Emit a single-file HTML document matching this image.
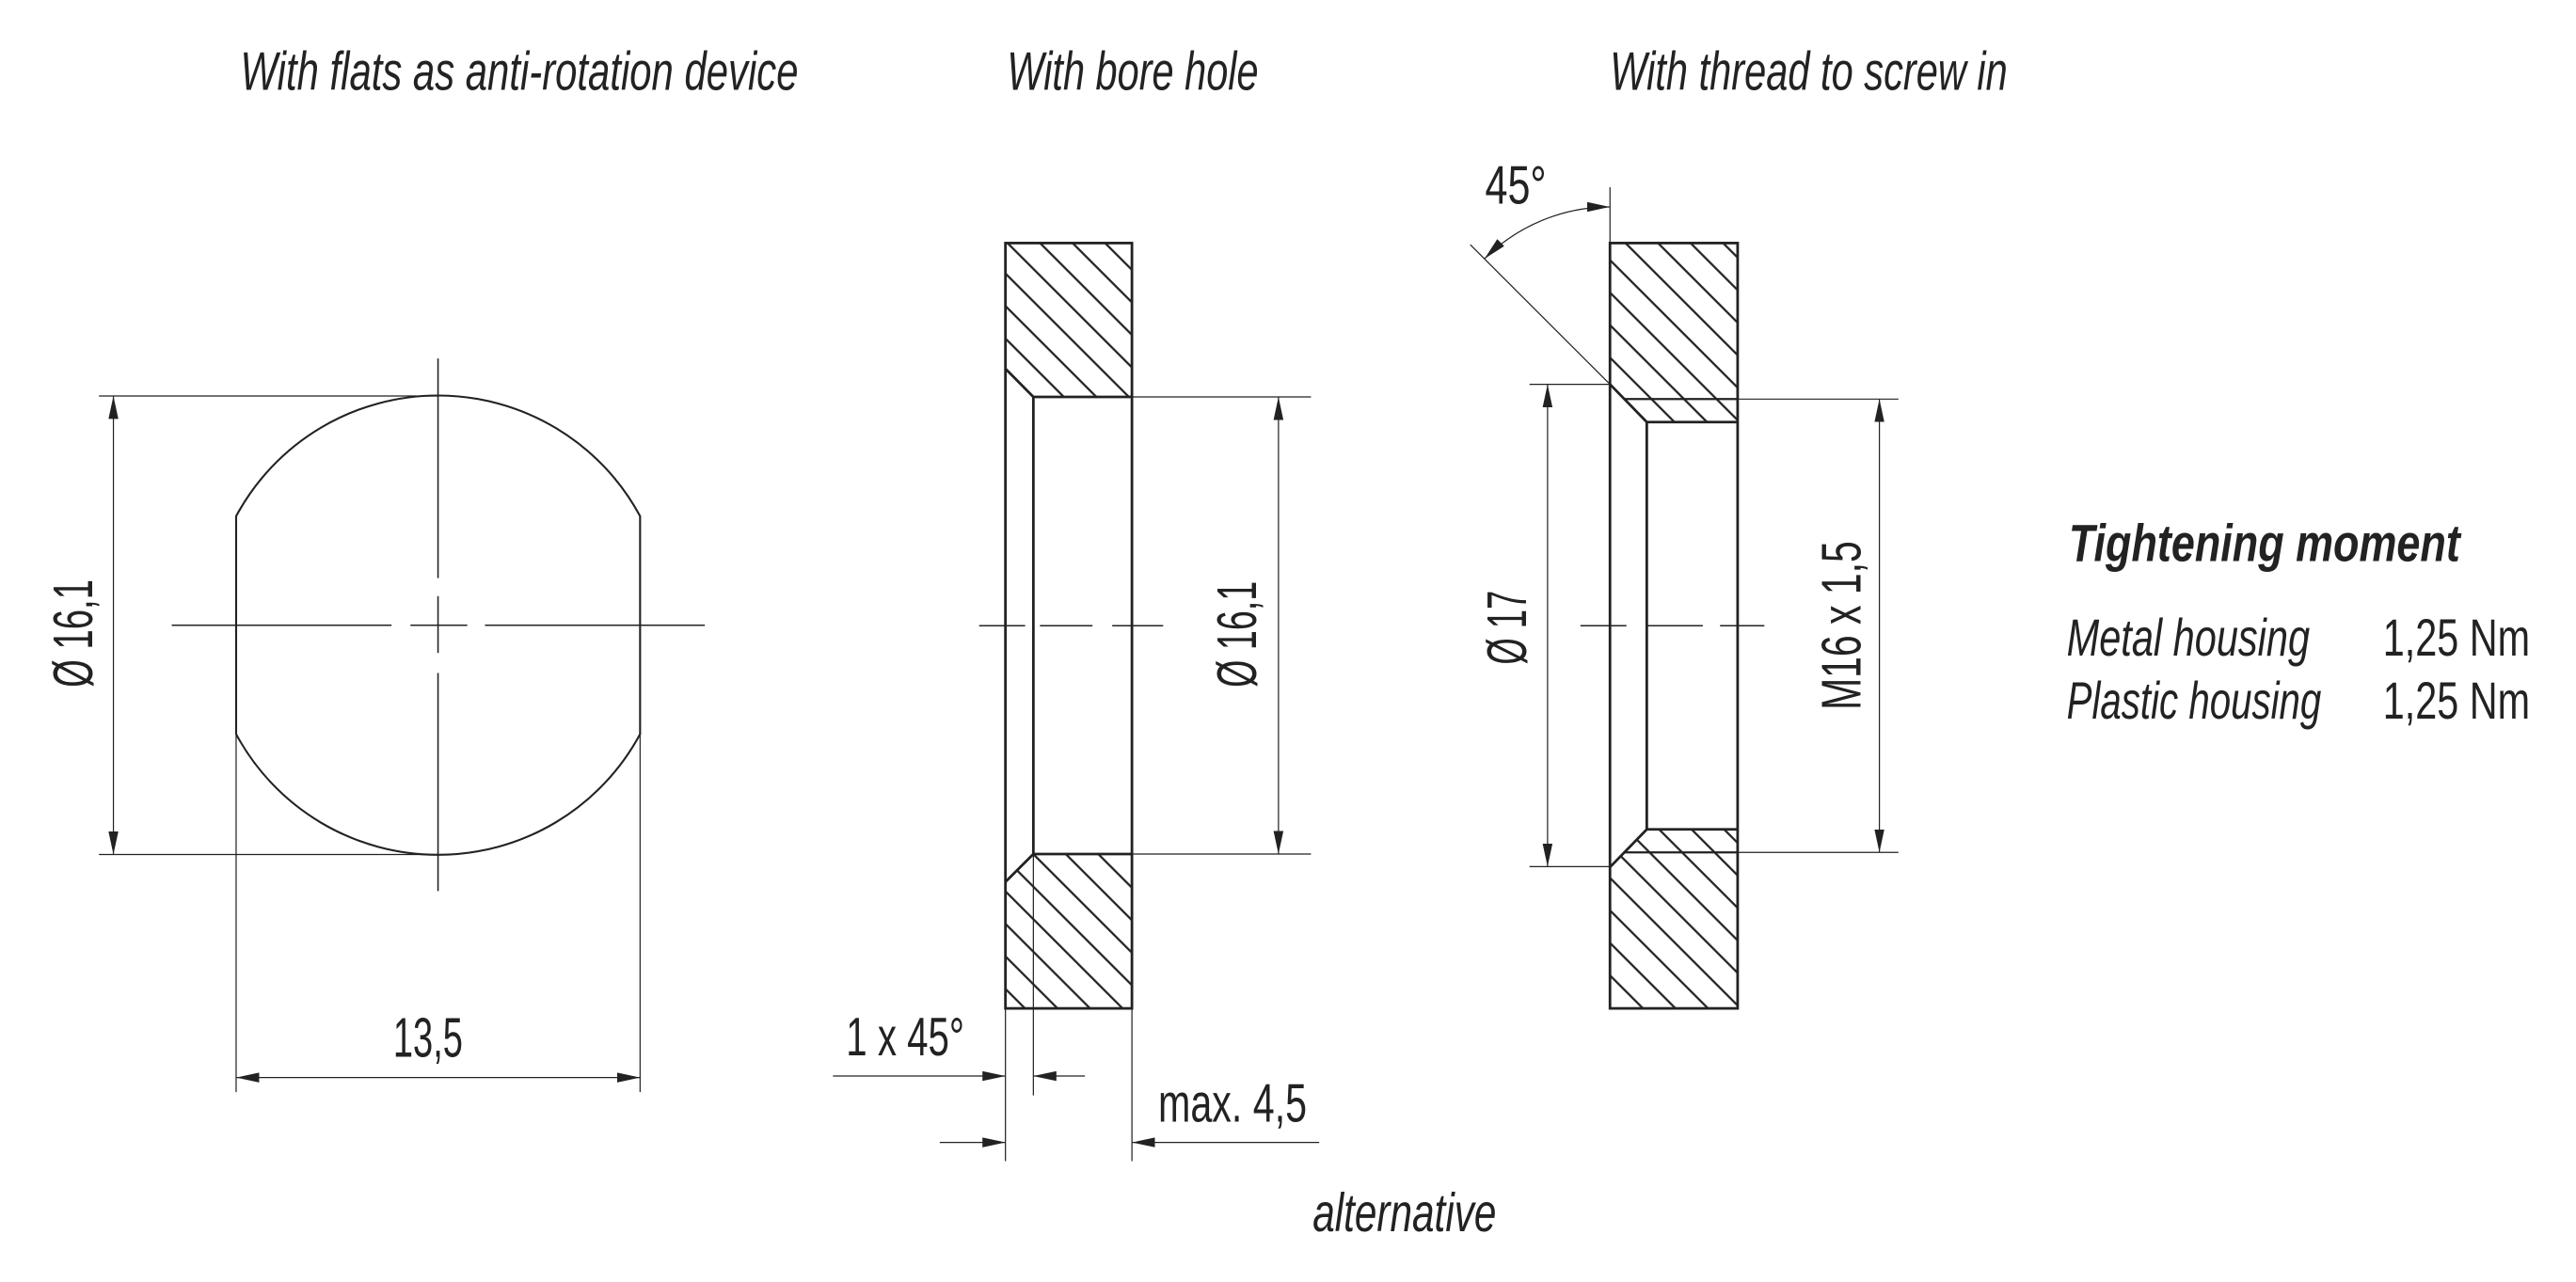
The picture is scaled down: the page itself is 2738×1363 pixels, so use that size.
<!DOCTYPE html>
<html><head><meta charset="utf-8"><style>
html,body{margin:0;padding:0;background:#fff;}
svg{display:block;}
text{font-family:"Liberation Sans Narrow","Liberation Sans",sans-serif;fill:#222;}
.it{font-style:italic;}
</style></head><body>
<svg width="2738" height="1363" viewBox="0 0 1568 780.6" xmlns="http://www.w3.org/2000/svg">
<defs>
<pattern id="h" patternUnits="userSpaceOnUse" width="14" height="14" patternTransform="rotate(-45)">
<line x1="7" y1="-1" x2="7" y2="15" stroke="#222" stroke-width="1.3"/>
</pattern>
<marker id="a" viewBox="0 0 14 6" refX="14" refY="3" markerWidth="14" markerHeight="6" markerUnits="userSpaceOnUse" orient="auto-start-reverse">
<path d="M0,0 L14,3 L0,6 Z" fill="#222"/>
</marker>
</defs>
<g fill="none" stroke="#222">
<path d="M143.7,314.3 A139.6,139.6 0 0 1 389.6,314.3 L389.6,447 A139.6,139.6 0 0 1 143.7,447 Z" stroke-width="1.2"/>
<g stroke-width="0.9">
<line x1="104.5" y1="380.7" x2="238.3" y2="380.7"/>
<line x1="249.8" y1="380.7" x2="284.4" y2="380.7"/>
<line x1="295.2" y1="380.7" x2="429" y2="380.7"/>
<line x1="266.6" y1="218.3" x2="266.6" y2="352"/>
<line x1="266.6" y1="363" x2="266.6" y2="397.6"/>
<line x1="266.6" y1="409.8" x2="266.6" y2="542.6"/>
<line x1="60.2" y1="241.1" x2="266.6" y2="241.1" stroke-width="0.7"/>
<line x1="60.2" y1="520.3" x2="266.6" y2="520.3" stroke-width="0.7"/>
<line x1="69" y1="241.1" x2="69" y2="520.3" stroke-width="0.7" marker-start="url(#a)" marker-end="url(#a)"/>
<line x1="143.7" y1="447" x2="143.7" y2="665" stroke-width="0.7"/>
<line x1="389.6" y1="447" x2="389.6" y2="665" stroke-width="0.7"/>
<line x1="143.7" y1="656.1" x2="389.6" y2="656.1" stroke-width="0.7" marker-start="url(#a)" marker-end="url(#a)"/>
</g>

<path d="M612,148 L689,148 L689,241.7 L629,241.7 L612,224.5 Z" fill="url(#h)" stroke="none"/>
<path d="M629,520 L689,520 L689,614 L612,614 L612,537 Z" fill="url(#h)" stroke="none"/>
<rect x="612" y="148" width="77" height="466" stroke-width="1.6"/>
<path d="M612,224.5 L629,241.7 L689,241.7 M629,241.7 L629,520 L689,520 M629,520 L612,537" stroke-width="1.6"/>
<g stroke-width="0.7">
<line x1="629" y1="520" x2="629" y2="667"/>
<line x1="612" y1="614" x2="612" y2="707"/>
<line x1="689" y1="614" x2="689" y2="707"/>
<line x1="689" y1="241.7" x2="798" y2="241.7"/>
<line x1="689" y1="520" x2="798" y2="520"/>
<line x1="778.2" y1="241.7" x2="778.2" y2="520" marker-start="url(#a)" marker-end="url(#a)"/>
<line x1="507" y1="655.2" x2="612" y2="655.2" marker-end="url(#a)"/>
<line x1="660.4" y1="655.2" x2="629" y2="655.2" marker-end="url(#a)"/>
<line x1="572" y1="695.6" x2="612" y2="695.6" marker-end="url(#a)"/>
<line x1="803" y1="695.6" x2="689" y2="695.6" marker-end="url(#a)"/>
</g>
<g stroke-width="0.9">
<line x1="596" y1="381" x2="624" y2="381"/>
<line x1="633" y1="381" x2="665" y2="381"/>
<line x1="677" y1="381" x2="708" y2="381"/>
</g>

<path d="M980,148 L1057.7,148 L1057.7,257 L1002.4,257 L980,234 Z" fill="url(#h)" stroke="none"/>
<path d="M1002.4,505 L1057.7,505 L1057.7,614 L980,614 L980,528 Z" fill="url(#h)" stroke="none"/>
<rect x="980" y="148" width="77.7" height="466" stroke-width="1.6"/>
<path d="M980,234 L1002.4,257 L1057.7,257 M1002.4,257 L1002.4,505 L1057.7,505 M1002.4,505 L980,528" stroke-width="1.6"/>
<line x1="989" y1="243" x2="1057.7" y2="243" stroke-width="1.3"/>
<line x1="989" y1="519" x2="1057.7" y2="519" stroke-width="1.3"/>
<g stroke-width="0.7">
<line x1="931" y1="234" x2="980" y2="234"/>
<line x1="931" y1="527.7" x2="980" y2="527.7"/>
<line x1="942" y1="234" x2="942" y2="527.7" marker-start="url(#a)" marker-end="url(#a)"/>
<line x1="1057.7" y1="243" x2="1155.6" y2="243"/>
<line x1="1057.7" y1="519" x2="1155.6" y2="519"/>
<line x1="1144" y1="243" x2="1144" y2="519" marker-start="url(#a)" marker-end="url(#a)"/>
<line x1="980" y1="114" x2="980" y2="148"/>
<line x1="980" y1="234" x2="895" y2="149"/>
<path d="M903.6,157.6 A108,108 0 0 1 980,126" marker-start="url(#a)" marker-end="url(#a)"/>
</g>
<g stroke-width="0.9">
<line x1="962" y1="381" x2="990" y2="381"/>
<line x1="1003" y1="381" x2="1036.5" y2="381"/>
<line x1="1047" y1="381" x2="1074" y2="381"/>
</g>
</g>

<text class="it" x="146.3" y="54.8" font-size="33" textLength="339.6" lengthAdjust="spacingAndGlyphs">With flats as anti-rotation device</text>
<text class="it" x="613" y="54.8" font-size="33" textLength="153" lengthAdjust="spacingAndGlyphs">With bore hole</text>
<text class="it" x="980" y="54.8" font-size="33" textLength="242" lengthAdjust="spacingAndGlyphs">With thread to screw in</text>

<text x="239.3" y="643.4" font-size="34" textLength="42.4" lengthAdjust="spacingAndGlyphs">13,5</text>
<text x="515" y="642.5" font-size="33" textLength="72" lengthAdjust="spacingAndGlyphs">1 x 45°</text>
<text x="705" y="683" font-size="33" textLength="90.5" lengthAdjust="spacingAndGlyphs">max. 4,5</text>
<text class="it" x="799" y="749.6" font-size="33" textLength="111.8" lengthAdjust="spacingAndGlyphs">alternative</text>
<text x="904" y="124" font-size="33" textLength="37.3" lengthAdjust="spacingAndGlyphs">45°</text>

<text transform="translate(56,385.7) rotate(-90)" text-anchor="middle" font-size="34" textLength="65.8" lengthAdjust="spacingAndGlyphs">Ø 16,1</text>
<text transform="translate(764.4,386.2) rotate(-90)" text-anchor="middle" font-size="34" textLength="64.7" lengthAdjust="spacingAndGlyphs">Ø 16,1</text>
<text transform="translate(928.8,382.1) rotate(-90)" text-anchor="middle" font-size="34" textLength="45.2" lengthAdjust="spacingAndGlyphs">Ø 17</text>
<text transform="translate(1132.5,380.9) rotate(-90)" text-anchor="middle" font-size="34" textLength="102.9" lengthAdjust="spacingAndGlyphs">M16 x 1,5</text>

<text class="it" x="1259.3" y="341.7" font-size="32" font-weight="bold" textLength="238.2" lengthAdjust="spacingAndGlyphs">Tightening moment</text>
<text class="it" x="1258" y="399.2" font-size="32" textLength="148" lengthAdjust="spacingAndGlyphs">Metal housing</text>
<text x="1450.5" y="399.2" font-size="32" textLength="89.5" lengthAdjust="spacingAndGlyphs">1,25 Nm</text>
<text class="it" x="1258" y="437.6" font-size="32" textLength="155" lengthAdjust="spacingAndGlyphs">Plastic housing</text>
<text x="1450.5" y="437.6" font-size="32" textLength="89.5" lengthAdjust="spacingAndGlyphs">1,25 Nm</text>
</svg>
</body></html>
